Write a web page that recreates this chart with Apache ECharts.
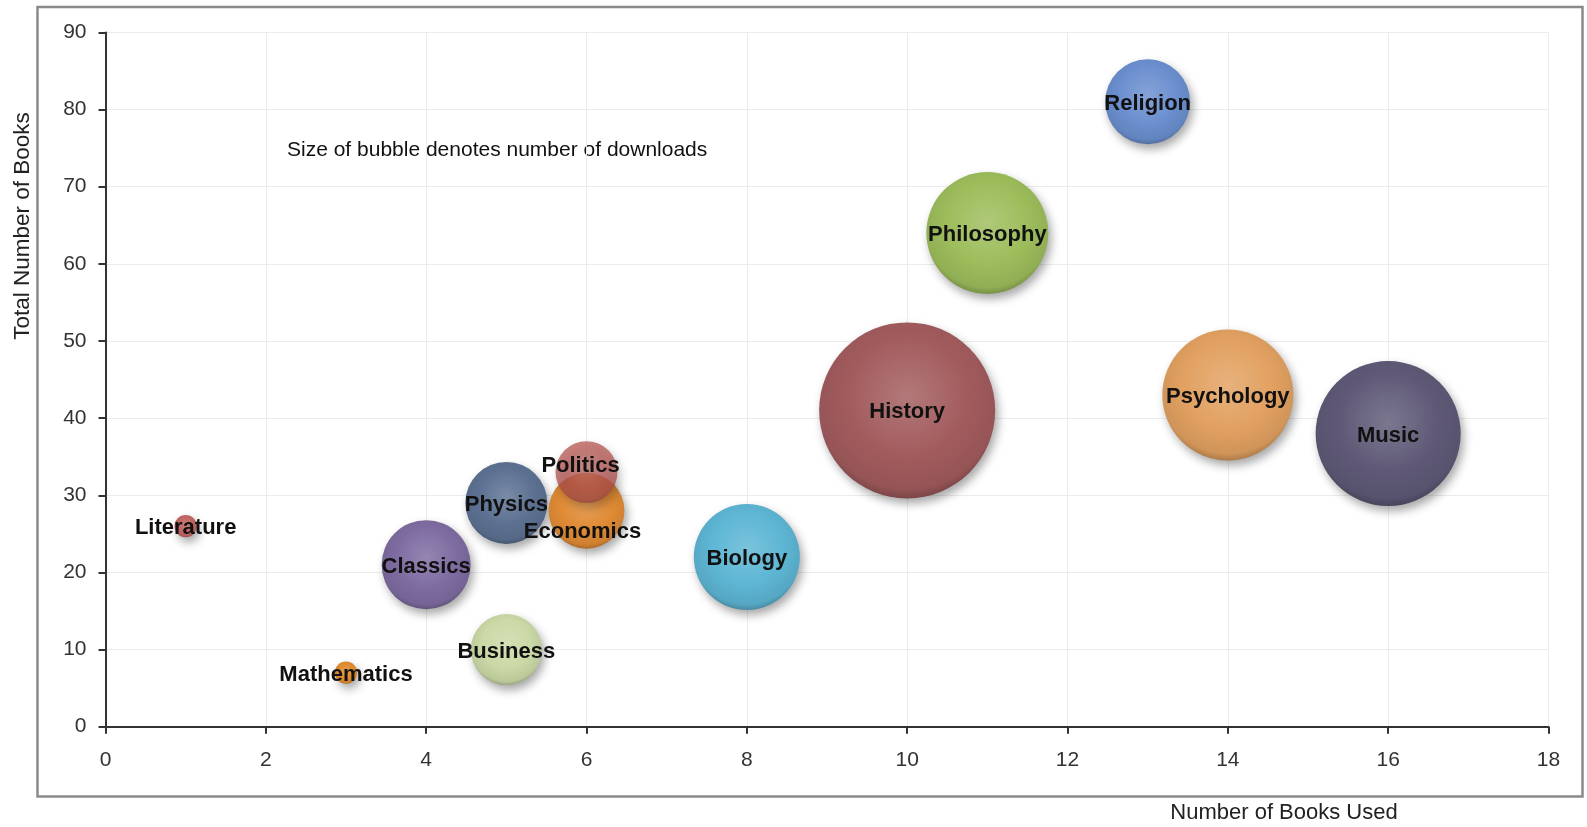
<!DOCTYPE html>
<html>
<head>
<meta charset="utf-8">
<script src="https://cdn.jsdelivr.net/npm/echarts@6/dist/echarts.min.js"></script>
<style>
html,body{margin:0;padding:0;background:#fff;}
#chart{width:1587px;height:827px;}
</style>
</head>
<body>
<div id="chart"></div>
<script>
// ---- data ----
const categories = ['Religion','Philosophy','History','Psychology','Music','Biology','Classics','Physics','Economics','Politics','Business','Mathematics','Literature'];
const booksUsed  = [13, 11, 10, 14, 16, 8, 4, 5, 6, 6, 5, 3, 1];
const totalBooks = [81, 64, 41, 43, 38, 22, 21, 29, 28, 33, 10, 7, 26];
const downloads  = [233, 480, 1000, 554, 679, 363, 256, 217, 186, 124, 163, 16, 16];
const xTickValues = [0, 2, 4, 6, 8, 10, 12, 14, 16, 18];
const yTickValues = [0, 10, 20, 30, 40, 50, 60, 70, 80, 90];
const xAxisTitle = 'Number of Books Used';
const yAxisTitle = 'Total Number of Books';
const note = 'Size of bubble denotes number of downloads';

// ---- styles ----
const bubbleColors = ['#6b8fcf','#9dbd5b','#a25b5d','#e2a161','#5f5977','#5db6d4','#7e6ca1','#5c7192','#e08b35','#b8524e','#cbd9a6','#e08a2d','#c06460'];
const labelOffsets = { Politics: [-6, -6], Economics: [-4, 21] };
const itemAlpha = { Politics: 0.72 };
const FONT = '"Liberation Sans", Arial, Helvetica, sans-serif';

function hexToRgb(h){ h=h.replace('#',''); return [parseInt(h.substr(0,2),16),parseInt(h.substr(2,2),16),parseInt(h.substr(4,2),16)]; }
function mix(h, t, a, alpha){ const c=hexToRgb(h); return 'rgba('+c.map(v=>Math.round(v+(t-v)*a)).join(',')+','+alpha+')'; }
function gloss(h, alpha){
  return new echarts.graphic.RadialGradient(0.5, 0.42, 0.62, [
    {offset:0, color: mix(h,255,0.18,alpha)},
    {offset:0.55, color: mix(h,0,0,alpha)},
    {offset:0.85, color: mix(h,0,0.08,alpha)},
    {offset:1, color: mix(h,0,0.35,alpha)}
  ]);
}

const sizeScale = 5.566;
const seriesData = categories.map((name, i) => ({
  name: name,
  value: [booksUsed[i], totalBooks[i], downloads[i]],
  itemStyle: { color: gloss(bubbleColors[i], itemAlpha[name] || 1), opacity: 1 },
  label: { offset: labelOffsets[name] || [0, 2] }
}));

const chart = echarts.init(document.getElementById('chart'), null, {renderer:'canvas'});
chart.setOption({
  animation: false,
  backgroundColor: '#ffffff',
  grid: { left: 105.5, right: 38.5, top: 32.4, bottom: 100.3, outerBoundsMode: 'none', containLabel: false },
  xAxis: {
    type: 'value', min: xTickValues[0], max: xTickValues[xTickValues.length-1], interval: 2,
    axisLine: { show: true, onZero: false, lineStyle: { color: '#333', width: 2 } },
    axisTick: { show: true, inside: false, length: 7, lineStyle: { color: '#333', width: 2 } },
    axisLabel: { margin: 23, fontSize: 21, color: '#333', fontFamily: FONT },
    splitLine: { show: true, lineStyle: { color: '#ececec', width: 1 } }
  },
  yAxis: {
    type: 'value', min: yTickValues[0], max: yTickValues[yTickValues.length-1], interval: 10,
    axisLine: { show: true, onZero: false, lineStyle: { color: '#333', width: 2 } },
    axisTick: { show: true, inside: false, length: 7, lineStyle: { color: '#333', width: 2 } },
    axisLabel: { margin: 19, fontSize: 21, color: '#333', fontFamily: FONT },
    splitLine: { show: true, lineStyle: { color: '#ececec', width: 1 } }
  },
  graphic: [
    { type: 'rect', z: -10, silent: true,
      shape: { x: 37.5, y: 7, width: 1545, height: 789.5 },
      style: { fill: 'none', stroke: '#8a8a8a', lineWidth: 2.5 } },
    { type: 'text', x: 23, y: 226, rotation: Math.PI/2, silent: true,
      style: { text: yAxisTitle, fontSize: 22.5, fontFamily: FONT, fill: '#222', align: 'center', verticalAlign: 'middle' } },
    { type: 'text', x: 1284, y: 813, silent: true,
      style: { text: xAxisTitle, fontSize: 22, fontFamily: FONT, fill: '#222', align: 'center', verticalAlign: 'middle' } },
    { type: 'text', x: 287, y: 150, silent: true,
      style: { text: note, fontSize: 21, fontFamily: FONT, fill: '#111', align: 'left', verticalAlign: 'middle' } }
  ],
  series: [{
    type: 'scatter',
    data: seriesData,
    symbol: 'circle',
    symbolSize: function (v) { return Math.sqrt(v[2]) * sizeScale; },
    itemStyle: { opacity: 1, shadowColor: 'rgba(0,0,0,0.35)', shadowBlur: 10, shadowOffsetX: 3, shadowOffsetY: 5 },
    label: { show: true, position: 'inside', formatter: '{b}', fontSize: 22, fontWeight: 'bold', color: '#111', fontFamily: FONT },
    emphasis: { disabled: true }
  }]
});
</script>
</body>
</html>
